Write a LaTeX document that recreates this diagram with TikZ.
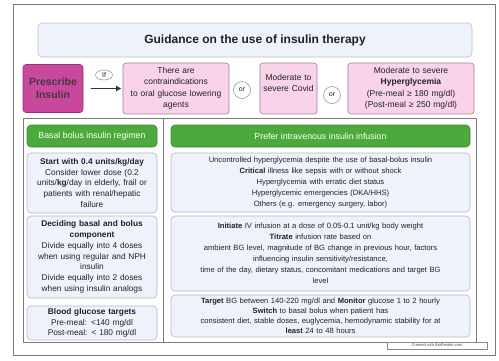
\documentclass[tikz,border=0pt]{standalone}
\usepackage{fontspec}
\setmainfont{Liberation Sans}
\usepackage{tikz}
\usetikzlibrary{arrows.meta, shapes.geometric}
\usepackage{xcolor}

\definecolor{framegray}{HTML}{7A7A7A}
\definecolor{titlefill}{HTML}{EEF2FA}
\definecolor{titledraw}{HTML}{B8C0CC}
\definecolor{magentafill}{HTML}{C8489E}
\definecolor{magentadraw}{HTML}{9A2F78}
\definecolor{pinkfill}{HTML}{F9D3EA}
\definecolor{pinkdraw}{HTML}{A07C94}
\definecolor{greenfill}{HTML}{4CAA3C}
\definecolor{greendraw}{HTML}{3B8A2E}
\definecolor{infodraw}{HTML}{B0B8C6}
\definecolor{textgray}{HTML}{222222}

\begin{document}
\begin{tikzpicture}[
  x=1pt,
  y=-1pt,
  line cap=round,
  line join=round,
  titlebox/.style={draw=titledraw,fill=titlefill,line width=0.6pt,rounded corners=4pt,
    inner sep=0pt,font=\fontsize{12pt}{14pt}\selectfont\bfseries,text=textgray},
  startbox/.style={draw=magentadraw,fill=magentafill,line width=0.6pt,rounded corners=3pt,
    inner sep=0pt,align=center,font=\fontsize{10.5pt}{13pt}\selectfont\bfseries,text=black!85!magenta},
  pinkbox/.style={draw=pinkdraw,fill=pinkfill,line width=0.6pt,rounded corners=3pt,
    inner sep=0pt,align=center,font=\fontsize{8.5pt}{11.5pt}\selectfont,text=textgray},
  choice/.style={draw=black!40,fill=white,line width=0.6pt,inner sep=0pt,
    font=\fontsize{7pt}{8pt}\selectfont,text=textgray},
  greenbar/.style={draw=greendraw,fill=greenfill,line width=0.6pt,rounded corners=4pt,
    inner sep=0pt,font=\fontsize{8.8pt}{10pt}\selectfont,text=white},
  infobox/.style={draw=infodraw,fill=titlefill,line width=0.6pt,rounded corners=4pt,
    inner sep=0pt,align=center,text=textgray},
  leftfont/.style={font=\fontsize{8.3pt}{10.8pt}\selectfont},
  rightfont/.style={font=\fontsize{7.6pt}{11pt}\selectfont},
  flow/.style={-{Triangle[length=5pt,width=5pt]},draw=black!80,line width=1.3pt}
]

  % Page size and outer frame
  \useasboundingbox (0,0) rectangle (499,360);
  \draw[framegray,line width=0.8pt] (13,4) rectangle (495,355);

  % Title
  \node[titlebox,minimum width=434pt,minimum height=34pt] (title) at (255,40)
    {Guidance on the use of insulin therapy};

  % Indications for insulin
  \node[startbox,minimum width=60pt,minimum height=48pt] (prescribe) at (53,88.5)
    {Prescribe\\Insulin};
  \node[pinkbox,minimum width=106pt,minimum height=51pt,text width=104pt] (contra) at (176,88.5)
    {There are\\contraindications\\to oral glucose lowering\\agents};
  \node[pinkbox,minimum width=57pt,minimum height=51pt,text width=55pt] (covid) at (288.5,88.5)
    {Moderate to\\severe Covid\\\mbox{}};
  \node[pinkbox,minimum width=126pt,minimum height=51pt,text width=124pt] (hyper) at (411,88.5)
    {Moderate to severe\\\textbf{Hyperglycemia}\\(Pre-meal ≥ 180 mg/dl)\\(Post-meal ≥ 250 mg/dl)};
  \node[choice,ellipse,minimum width=17pt,minimum height=10pt] (if) at (104,75) {If};
  \node[choice,circle,minimum size=17pt] (orone) at (242,90) {or};
  \node[choice,circle,minimum size=17pt] (ortwo) at (332,95) {or};
  \draw[flow,shorten <=8pt,shorten >=1.5pt] (prescribe) -- (contra);

  % Lower panels
  \draw[framegray,line width=0.6pt] (23,118) rectangle (163,342);
  \draw[framegray,line width=0.6pt] (163,118) rectangle (476,342);

  % Basal bolus column
  \node[greenbar,minimum width=130pt,minimum height=22pt] (basal) at (92,136)
    {Basal bolus insulin regimen};
  \node[infobox,leftfont,minimum width=130pt,minimum height=60pt,text width=126pt] (start) at (92,183)
    {\textbf{Start with 0.4 units/kg/day}\\Consider lower dose (0.2\\units/\textbf{kg}/day in elderly, frail or\\patients with renal/hepatic\\failure};
  \node[infobox,leftfont,minimum width=130pt,minimum height=82pt,text width=126pt] (split) at (92,257)
    {\textbf{Deciding basal and bolus}\\\textbf{component}\\Divide equally into 4 doses\\when using regular and NPH\\insulin\\Divide equally into 2 doses\\when using insulin analogs};
  \node[infobox,leftfont,minimum width=130pt,minimum height=34pt,text width=126pt] (targets) at (92,323)
    {\textbf{Blood glucose targets}\\Pre-meal: <140 mg/dl\\Post-meal: < 180 mg/dl};

  % Intravenous infusion column
  \node[greenbar,minimum width=299pt,minimum height=22pt] (infusion) at (320.5,136)
    {Prefer intravenous insulin infusion};
  \node[infobox,rightfont,minimum width=299pt,minimum height=59pt,text width=295pt] (when) at (320.5,182.5)
    {Uncontrolled hyperglycemia despite the use of basal-bolus insulin\\\textbf{Critical} illness like sepsis with or without shock\\Hyperglycemia with erratic diet status\\Hyperglycemic emergencies (DKA/HHS)\\Others (e.g. emergency surgery, labor)};
  \node[infobox,rightfont,minimum width=299pt,minimum height=75pt,text width=295pt] (titrate) at (320.5,253.5)
    {\textbf{Initiate} IV infusion at a dose of 0.05-0.1 unit/kg body weight\\\textbf{Titrate} infusion rate based on\\ambient BG level, magnitude of BG change in previous hour, factors\\influencing insulin sensitivity/resistance,\\time of the day, dietary status, concomitant medications and target BG\\level};
  \node[infobox,font=\fontsize{7.6pt}{10pt}\selectfont,minimum width=299pt,minimum height=42pt,text width=295pt] (switch) at (320.5,316)
    {\textbf{Target} BG between 140-220 mg/dl and \textbf{Monitor} glucose 1 to 2 hourly\\\textbf{Switch} to basal bolus when patient has\\consistent diet, stable doses, euglycemia, hemodynamic stability for at\\\textbf{least} 24 to 48 hours};

  % Badge
  \node[draw=black!45,fill=white,line width=0.5pt,inner sep=0pt,minimum width=100pt,minimum height=7pt,
    font=\fontsize{4pt}{5pt}\selectfont,text=black!70] (badge) at (437,345.5)
    {Created with BioRender.com};

\end{tikzpicture}
\end{document}
